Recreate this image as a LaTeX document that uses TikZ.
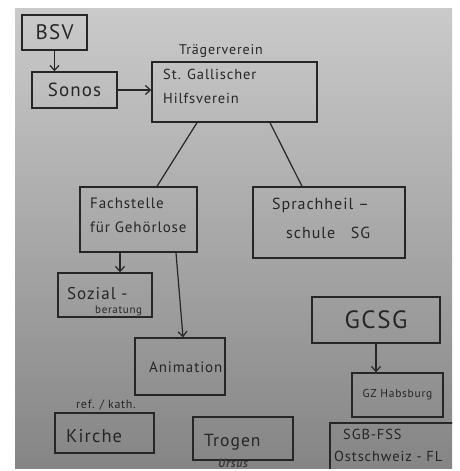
\documentclass[tikz,border=0pt]{standalone}
\usepackage{fontspec}
\setmainfont{PT Sans}[LetterSpace=6]
\usetikzlibrary{arrows.meta,calc}
\definecolor{ink}{HTML}{262626}
\definecolor{papertop}{HTML}{CACACA}
\definecolor{papermid}{HTML}{BABABA}
\definecolor{paperbot}{HTML}{858585}
\newcommand{\fs}[1]{\fontsize{#1}{#1}\selectfont}
\begin{document}
\begin{tikzpicture}[x=1pt,y=-1pt,
  box/.style={draw=ink, line width=1.4pt, rectangle, inner sep=0pt, text=ink},
  lbl/.style={text=ink, inner sep=0pt},
  txt/.style={text=ink, inner sep=0pt, anchor=base west},
  arr/.style={draw=ink, line width=1.2pt, -{Straight Barb[length=5pt,width=9pt]}},
  link/.style={draw=ink, line width=1.2pt}]
\useasboundingbox (0,0) rectangle (459,471);
\fill[white] (0,0) rectangle (459,471);
\shade[top color=papertop, middle color=papermid, bottom color=paperbot] (15,8) rectangle (452,468);
\begin{scope}
\clip (15,8) rectangle (452,468);
% boxes
\node[box, font=\fs{21}, minimum width=65pt, minimum height=35pt] (bsv) at (54.5,32.5) {BSV};
\node[box, font=\fs{19}, minimum width=85pt, minimum height=36pt] (sonos) at (74.5,90) {Sonos};
\node[lbl, font=\fs{14}] (traeger) at (221,51) {Trägerverein};
\node[box, minimum width=165pt, minimum height=60pt] (stg) at (234.5,92) {};
\node[txt, font=\fs{14.5}] (stg1) at (163,79) {St. Gallischer};
\node[txt, font=\fs{14.5}] (stg2) at (163,103) {Hilfsverein};
\node[box, minimum width=117pt, minimum height=65pt] (fach) at (138.5,219.5) {};
\node[txt, font=\fs{15}] (fach1) at (90,208) {Fachstelle};
\node[txt, font=\fs{15}] (fach2) at (90,232) {für Gehörlose};
\node[box, minimum width=152pt, minimum height=71pt] (sprach) at (329,222.5) {};
\node[txt, font=\fs{16}] (sprach1) at (272,209) {Sprachheil~–};
\node[txt, font=\fs{16}] (sprach2) at (286,238) {schule~~~SG};
\node[box, minimum width=94pt, minimum height=44pt] (soz) at (105,295) {};
\node[txt, font=\fs{17}] (soz1) at (67,299) {Sozial~-};
\node[txt, font=\fs{11}] (soz2) at (95,313) {beratung};
\node[box, minimum width=90pt, minimum height=57pt] (anim) at (180,366.5) {};
\node[txt, font=\fs{15}] (animt) at (149,372) {Animation};
\node[box, font=\fs{25}, minimum width=128pt, minimum height=46pt] (gcsg) at (376,320) {GCSG};
\node[box, font=\fs{11.5}, minimum width=91pt, minimum height=44pt] (gz) at (397.5,395) {GZ Habsburg};
\node[lbl, font=\fs{12}] (ref) at (106,405) {ref. / kath.};
\node[box, minimum width=99pt, minimum height=40pt] (kirche) at (104.5,433) {};
\node[txt, font=\fs{18.5}] (kirchet) at (66,442) {Kirche};
\node[box, minimum width=100pt, minimum height=43pt] (trogen) at (243,438.5) {};
\node[txt, font=\fs{17.5}] (trogent) at (204,446) {Trogen};
\node[box, minimum width=126pt, minimum height=47pt] (sgb) at (393,446.5) {};
\node[txt, font=\fs{14.5}] (sgb1) at (343,439) {SGB-FSS};
\node[txt, font=\fs{14.5}] (sgb2) at (334,461) {Ostschweiz~-~FL};
\node[lbl, font=\bfseries\itshape\fs{12}, text=ink!90] (ursus) at (233,463) {Ursus};
% connectors
\draw[arr] (bsv.south) -- (sonos.north -| bsv.south);
\draw[arr] (sonos.east) -- (stg.west |- sonos.east);
\draw[link] ([xshift=-37.5pt]stg.south) -- ([xshift=18.5pt]fach.north);
\draw[link] ([xshift=35.5pt]stg.south) -- ([xshift=-27pt]sprach.north);
\draw[arr] ([xshift=-18.5pt]fach.south) -- ([xshift=15pt]soz.north);
\draw[arr] ([xshift=37.5pt]fach.south) -- ([xshift=3pt]anim.north);
\draw[arr] (gcsg.south) -- (gz.north -| gcsg.south);
\end{scope}
\end{tikzpicture}
\end{document}
